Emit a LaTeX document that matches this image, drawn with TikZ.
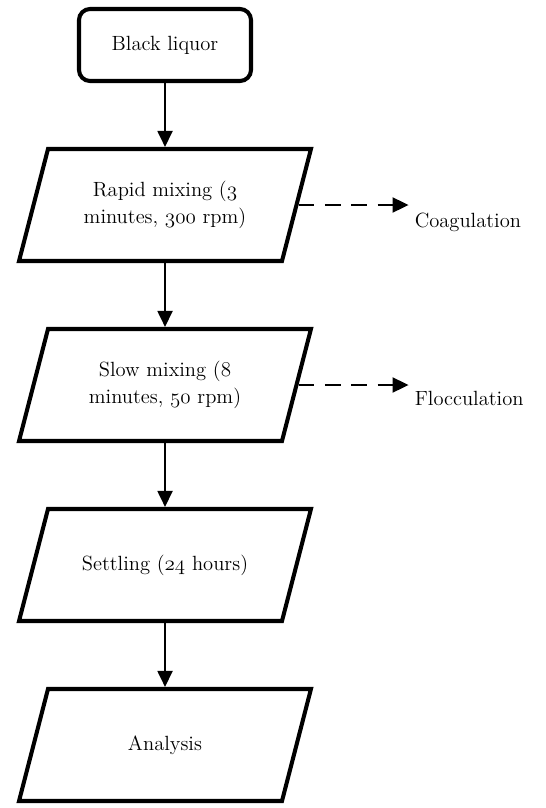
\documentclass[tikz,border=0pt]{standalone}
\usetikzlibrary{shapes.geometric,arrows.meta}
% old style figures from the math italic font
\newcommand{\osnum}[1]{{\usefont{OML}{cmm}{m}{it}#1}}
\begin{document}
\begin{tikzpicture}[node distance={36mm}, font=\fontsize{11.7}{15.5}\selectfont,
	main/.style = {draw, line width=2.3pt, trapezium, trapezium left angle=75.5, trapezium right angle=104.5, inner sep=0pt,
		execute at begin node={\begin{minipage}[c][22.4mm][c]{46.8mm}\centering}, execute at end node={\end{minipage}}},
	start/.style = {draw, line width=2.3pt, rounded corners=2.2mm, minimum width=34.4mm, minimum height=14.4mm},
	flow/.style = {line width=1.1pt, -{Triangle[length=3.2mm, width=3mm]}},
	side/.style = {flow, dash pattern=on 9pt off 6pt}] 
			\useasboundingbox (-3.3,0.9) rectangle (7.6,-15.26);
			\node[start] (1) {Black liquor}; 
			\node[main] (2) [below of=1, node distance=32mm] {Rapid mixing (\osnum{3}\\minutes, \osnum{300} rpm)};
			\node[main] (3) [below of=2] {Slow mixing (\osnum{8}\\minutes, \osnum{50} rpm)};
			\node[main] (4) [below of=3] {Settling (\osnum{24} hours)};
			\node[main] (5) [below of=4] {Analysis};
			\coordinate (c) at ([xshift=22mm]2.east);
			\coordinate (f) at ([xshift=22mm]3.east);
			\node[anchor=west] (6) at ([yshift=-3.4mm]c) {Coagulation};
			\node[anchor=west] (7) at ([yshift=-2.6mm]f) {Flocculation};
			\draw[flow] (1) -- (2);
			\draw[flow] (2) -- (3);
			\draw[flow] (3) -- (4);
			\draw[flow] (4) -- (5);
			\draw[side] (2.east) -- (c);
			\draw[side] (3.east) -- (f);
		\end{tikzpicture}
\end{document}
